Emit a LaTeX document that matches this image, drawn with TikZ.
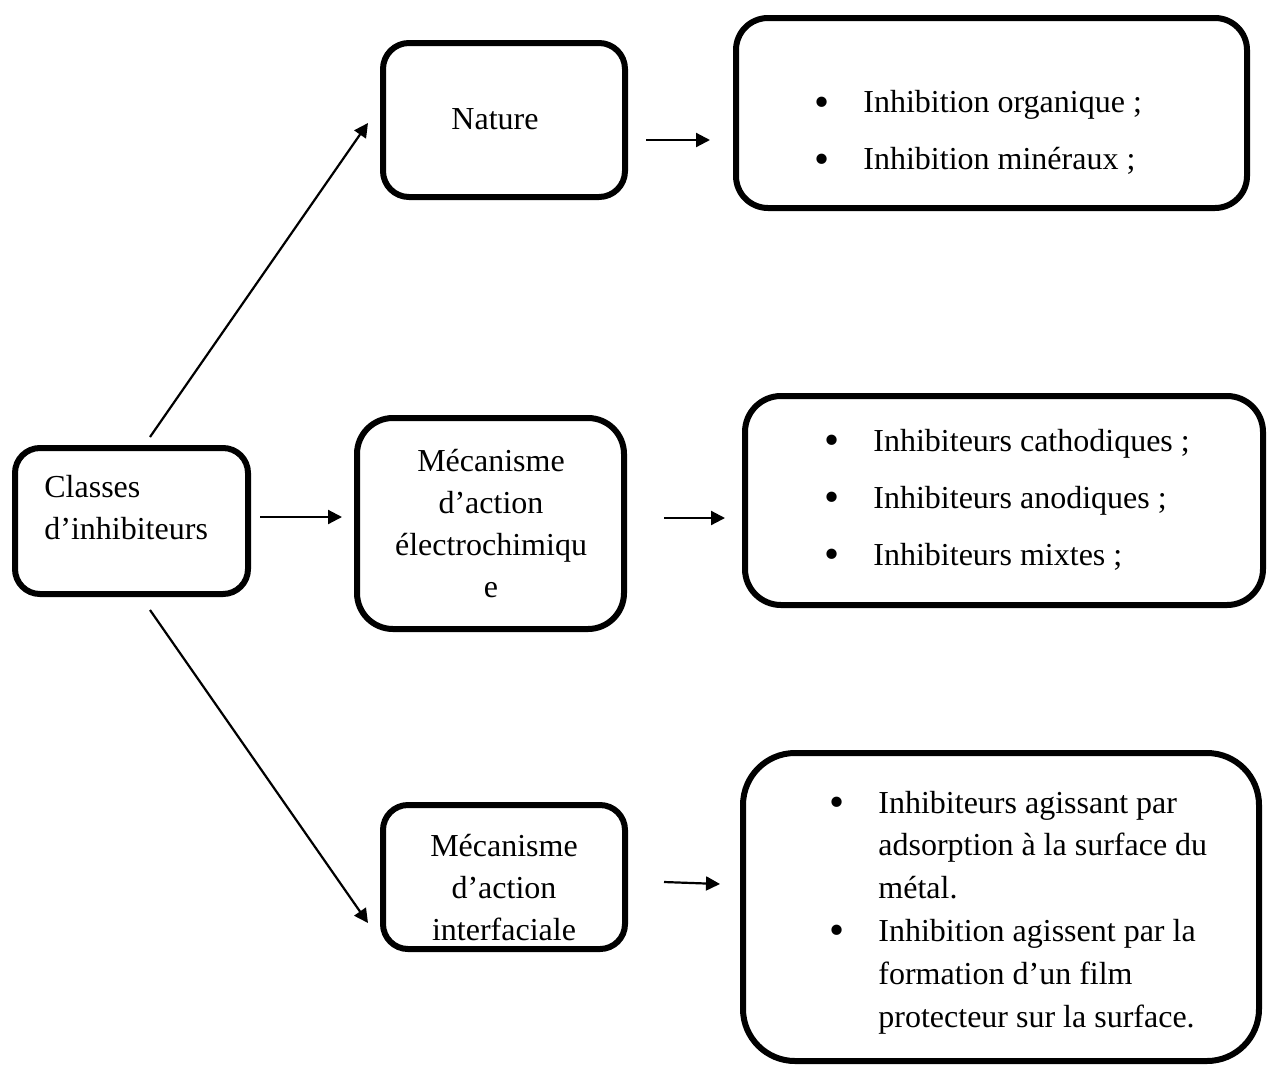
\documentclass[tikz,border=0pt]{standalone}
\usepackage{fontspec}
\setmainfont{Liberation Serif}
\usetikzlibrary{arrows.meta}
\tikzset{
  box/.style={draw, line width=3pt, rounded corners=#1, inner sep=0pt},
  txt/.style={inner sep=0pt, font=\fontsize{16}{19}\selectfont},
  ln/.style={txt, anchor=base west},
  cn/.style={txt, anchor=base},
  bul/.style={inner sep=0pt, anchor=base, font=\fontsize{21.5}{22}\selectfont},
  arr/.style={line width=1.1pt, -{Triangle[length=7pt,width=7pt]}}
}
\begin{document}
\begin{tikzpicture}[x=0.5pt, y=-0.5pt]
\useasboundingbox (0,0) rectangle (1273,1066);
% boxes
\node[box=12.5pt, minimum width=116.5pt, minimum height=73pt] (classes) at (131.5,521) {};
\node[box=13pt, minimum width=121pt, minimum height=77pt] (nature) at (504,120) {};
\node[box=16pt, minimum width=255.5pt, minimum height=95pt] (rtop) at (991.5,113) {};
\node[box=18pt, minimum width=133.5pt, minimum height=105.5pt] (mech) at (490.5,523.5) {};
\node[box=18pt, minimum width=259pt, minimum height=104.5pt] (rmid) at (1004,500.5) {};
\node[box=12.5pt, minimum width=121pt, minimum height=72pt] (inter) at (504,877) {};
\node[box=26pt, minimum width=258pt, minimum height=154pt] (rbot) at (1001,907) {};
% texts
\node[ln] (t1) at (44,497) {Classes};
\node[ln] (t2) at (44,539) {d’inhibiteurs};
\node[cn] (t3) at (495,129) {Nature};
\node[cn] (t4) at (491,471) {Mécanisme};
\node[cn] (t5) at (491,513) {d’action};
\node[cn] (t6) at (491,555) {électrochimiqu};
\node[cn] (t7) at (491,597) {e};
\node[cn] (t8) at (504,856) {Mécanisme};
\node[cn] (t9) at (504,898) {d’action};
\node[cn] (t10) at (504,940) {interfaciale};
% right top
\node[bul] (b1) at (822,116) {•};
\node[ln] (r1) at (863,112) {Inhibition organique ;};
\node[bul] (b2) at (822,173) {•};
\node[ln] (r2) at (863,169) {Inhibition minéraux ;};
% right middle
\node[bul] (b3) at (832,454) {•};
\node[ln] (r3) at (873,451) {Inhibiteurs cathodiques ;};
\node[bul] (b4) at (832,511) {•};
\node[ln] (r4) at (873,508) {Inhibiteurs anodiques ;};
\node[bul] (b5) at (832,568) {•};
\node[ln] (r5) at (873,565) {Inhibiteurs mixtes ;};
% right bottom
\node[bul] (b6) at (837,816) {•};
\node[ln] (r6) at (878,813) {Inhibiteurs agissant par};
\node[ln] (r7) at (878,855) {adsorption à la surface du};
\node[ln] (r8) at (878,898) {métal.};
\node[bul] (b7) at (837,944) {•};
\node[ln] (r9) at (878,941) {Inhibition agissent par la};
\node[ln] (r10) at (878,984) {formation d’un film};
\node[ln] (r11) at (878,1027) {protecteur sur la surface.};
% arrow ends
\coordinate (a1s) at (150,437);
\coordinate (a1e) at (368,123);
\coordinate (a2s) at (260,517);
\coordinate (a2e) at (342,517);
\coordinate (a3s) at (150,610);
\coordinate (a3e) at (368,923);
\coordinate (a4s) at (646,140);
\coordinate (a4e) at (710,140);
\coordinate (a5s) at (664,518);
\coordinate (a5e) at (725,518);
\coordinate (a6s) at (664,882);
\coordinate (a6e) at (720,884);
\draw[arr] (a1s) -- (a1e);
\draw[arr] (a2s) -- (a2e);
\draw[arr] (a3s) -- (a3e);
\draw[arr] (a4s) -- (a4e);
\draw[arr] (a5s) -- (a5e);
\draw[arr] (a6s) -- (a6e);
\end{tikzpicture}
\end{document}
